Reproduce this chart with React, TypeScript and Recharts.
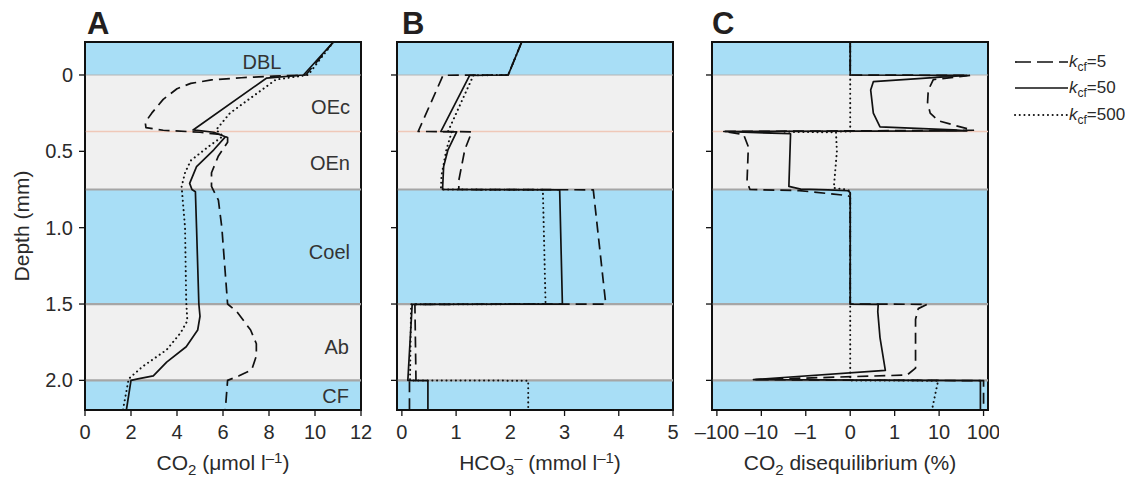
import React from 'react';
import { LineChart, Line, XAxis, YAxis, ReferenceArea, ReferenceLine } from 'recharts';

// ---------- shared depth layout ----------
const DEPTH_MIN = -0.216;
const DEPTH_MAX = 2.194;
const layerEdges = [-0.216, 0, 0.37, 0.75, 1.5, 2.0, 2.194];
const layerKinds = ['water', 'tissue', 'tissue', 'water', 'tissue', 'water'];
const layerNames = ['DBL', 'OEc', 'OEn', 'Coel', 'Ab', 'CF'];
const boundaryDepths = [0, 0.37, 0.75, 1.5, 2.0];
const depthTicks = [0, 0.5, 1.0, 1.5, 2.0];

// ---------- axis ticks ----------
const co2Ticks = [0, 2, 4, 6, 8, 10, 12];
const hco3Ticks = [0, 1, 2, 3, 4, 5];
const disTicks = [-100, -10, -1, 0, 1, 10, 100];
const disTickLabels = ['–100', '–10', '–1', '0', '1', '10', '100'];

// ---------- Panel A: CO2 (µmol l-1), [depth mm, value] ----------
const co2K5 = [
  [-0.216, 10.8], [0, 9.6], [0.008, 8.2], [0.018, 6.8], [0.032, 5.5], [0.055, 4.6], [0.09, 4.0],
  [0.16, 3.4], [0.25, 2.9], [0.31, 2.62], [0.345, 2.65], [0.362, 3.4], [0.375, 5.0], [0.39, 5.9],
  [0.41, 6.2], [0.44, 6.2], [0.53, 5.8], [0.64, 5.5], [0.73, 5.5], [0.82, 5.8], [1.0, 5.95],
  [1.3, 6.1], [1.5, 6.2], [1.55, 6.6], [1.67, 7.2], [1.76, 7.45], [1.84, 7.45], [1.93, 7.25],
  [1.97, 6.7], [2.0, 6.2], [2.194, 6.1],
];
const co2K50 = [
  [-0.216, 10.8], [0, 9.5], [0.02, 7.9], [0.36, 4.7], [0.375, 5.6], [0.405, 6.1], [0.49, 5.6],
  [0.6, 4.85], [0.71, 4.55], [0.75, 4.65], [0.765, 4.8], [1.0, 4.85], [1.5, 4.95], [1.58, 5.0],
  [1.67, 4.9], [1.78, 4.4], [1.88, 3.55], [1.97, 2.97], [1.99, 2.3], [2.0, 2.0], [2.194, 1.8],
];
const co2K500 = [
  [-0.216, 10.8], [0, 9.7], [0.03, 8.3], [0.14, 7.3], [0.25, 6.3], [0.36, 5.7], [0.4, 6.0],
  [0.47, 5.36], [0.56, 4.6], [0.64, 4.35], [0.73, 4.2], [1.0, 4.35], [1.48, 4.4], [1.61, 4.45],
  [1.69, 4.15], [1.8, 3.55], [1.91, 2.5], [1.99, 1.9], [2.194, 1.65],
];

// ---------- Panel B: HCO3- (mmol l-1) ----------
const hco3K5 = [
  [-0.216, 2.21], [0, 1.96], [0.002, 0.76], [0.37, 0.3], [0.372, 1.29], [0.49, 1.16],
  [0.69, 1.05], [0.75, 1.05], [0.752, 3.53], [1.5, 3.76], [1.502, 0.24], [2.0, 0.26],
  [2.002, 0.14], [2.194, 0.14],
];
const hco3K50 = [
  [-0.216, 2.21], [0, 1.96], [0.002, 1.25], [0.37, 0.72], [0.372, 1.01], [0.49, 0.85],
  [0.6, 0.77], [0.75, 0.75], [0.752, 2.91], [1.5, 2.96], [1.502, 0.19], [2.0, 0.11],
  [2.002, 0.48], [2.194, 0.48],
];
const hco3K500 = [
  [-0.216, 2.21], [0, 1.96], [0.002, 1.32], [0.37, 0.85], [0.372, 0.92], [0.49, 0.82],
  [0.66, 0.73], [0.75, 0.72], [0.752, 2.6], [1.5, 2.65], [1.502, 0.17], [2.0, 0.15],
  [2.002, 2.33], [2.194, 2.33],
];

// ---------- Panel C: CO2 disequilibrium (%) ----------
const disK5 = [
  [-0.216, 0], [0, 0], [0.003, 50], [0.03, 7.4], [0.1, 5.7], [0.18, 5.5], [0.25, 6.3],
  [0.3, 9.7], [0.34, 30], [0.362, 59], [0.37, -70], [0.39, -25], [0.47, -19.6], [0.7, -21],
  [0.75, -18], [0.757, -1.4], [0.79, -0.05], [0.8, 0], [1.5, 0], [1.502, 5.4], [1.53, 3.4],
  [1.6, 2.95], [1.92, 2.95], [1.965, 1.9], [1.995, -15], [2.002, 100], [2.194, 100],
];
const disK50 = [
  [-0.216, 0], [0, 0], [0.003, 42], [0.044, 0.52], [0.098, 0.46], [0.25, 0.52], [0.34, 0.67],
  [0.36, 21], [0.366, 42], [0.37, -70], [0.385, -2.2], [0.73, -2.4], [0.748, -1.3],
  [0.752, -0.5], [0.758, -0.05], [0.77, 0], [1.5, 0], [1.502, 0.63], [1.55, 0.62],
  [1.72, 0.67], [1.935, 0.79], [1.995, -15], [2.002, 85], [2.194, 85],
];
const disK500 = [
  [-0.216, 0], [0.37, 0], [0.372, -3], [0.376, -0.32], [0.5, -0.3], [0.74, -0.37],
  [0.75, -0.1], [0.76, 0], [2.0, 0], [2.002, 9.5], [2.194, 6.9],
];

// symmetric log transform used by panel C's axis
const symlog = (v: number) => (Math.abs(v) >= 1 ? Math.sign(v) * (Math.log10(Math.abs(v)) + 1) : v);

const toRows = (pairs: number[][], f: (v: number) => number = (v) => v) =>
  pairs.map(([d, v]) => ({ d, v: f(v) }));

const BLUE = '#a8def6';
const GRAY = '#f0f0f0';
const INK = '#111';
const FONT = '"Liberation Sans", Arial, Helvetica, sans-serif';
const TICK_FONT = 20;

const seriesStyles = [
  { strokeDasharray: '11 6', strokeWidth: 1.7, strokeLinecap: 'butt' },
  { strokeDasharray: undefined, strokeWidth: 1.7, strokeLinecap: 'butt' },
  { strokeDasharray: '0.1 4.6', strokeWidth: 2, strokeLinecap: 'round' },
];

const boundaryStyle = (d: number) => {
  if (d === 0) return { stroke: '#b4b4b4', strokeWidth: 1.2 };
  if (d === 0.37) return { stroke: '#efc8b8', strokeWidth: 1.6 };
  return { stroke: '#a6a6a6', strokeWidth: 2.2 };
};

type PanelProps = {
  left: number;
  width: number;
  yAxisWidth: number;
  marginRight: number;
  xDomain: number[];
  xTicks: number[];
  xFmt: (v: number) => string;
  series: { d: number; v: number }[][];
  yLabels: boolean;
};

const Panel = ({ left, width, yAxisWidth, marginRight, xDomain, xTicks, xFmt, series, yLabels }: PanelProps) => (
  <div style={{ position: 'absolute', left, top: 0 }}>
    <LineChart
      width={width}
      height={478}
      layout="vertical"
      margin={{ top: 42, right: marginRight, bottom: 20, left: 0 }}
    >
      <XAxis
        type="number"
        domain={xDomain}
        ticks={xTicks}
        tickFormatter={xFmt}
        allowDataOverflow
        interval={0}
        height={48}
        tickSize={6}
        tickMargin={9}
        tick={{ fontSize: TICK_FONT, fill: '#2a2a2a', fontFamily: FONT }}
        tickLine={{ stroke: INK, strokeWidth: 1.3 }}
        axisLine={{ stroke: INK, strokeWidth: 1.6 }}
      />
      <YAxis
        type="number"
        dataKey="d"
        domain={[DEPTH_MIN, DEPTH_MAX]}
        ticks={depthTicks}
        allowDataOverflow
        interval={0}
        width={yAxisWidth}
        tickSize={6}
        tickMargin={6}
        tickFormatter={(v: number) => (yLabels ? (v === 0 ? '0' : v.toFixed(1)) : '')}
        tick={{ fontSize: TICK_FONT, fill: '#2a2a2a', fontFamily: FONT }}
        tickLine={{ stroke: INK, strokeWidth: 1.3 }}
        axisLine={{ stroke: INK, strokeWidth: 1.6 }}
      />
      {layerKinds.map((k, i) => (
        <ReferenceArea
          key={'band' + i}
          y1={layerEdges[i]}
          y2={layerEdges[i + 1]}
          fill={k === 'water' ? BLUE : GRAY}
          fillOpacity={1}
          stroke="none"
          ifOverflow="hidden"
        />
      ))}
      {boundaryDepths.map((d) => (
        <ReferenceLine key={'b' + d} y={d} {...boundaryStyle(d)} ifOverflow="hidden" />
      ))}
      {series.map((data, i) => (
        <Line
          key={'s' + i}
          data={data}
          dataKey="v"
          type="linear"
          stroke={INK}
          dot={false}
          activeDot={false}
          isAnimationActive={false}
          strokeDasharray={seriesStyles[i].strokeDasharray}
          strokeWidth={seriesStyles[i].strokeWidth}
          strokeLinecap={seriesStyles[i].strokeLinecap as any}
          strokeLinejoin="round"
        />
      ))}
      <ReferenceArea
        x1={xDomain[0]}
        x2={xDomain[1]}
        y1={DEPTH_MIN}
        y2={DEPTH_MAX}
        fill="none"
        stroke={INK}
        strokeWidth={2}
        ifOverflow="visible"
      />
    </LineChart>
  </div>
);

const labelPos = [
  { x: 262, y: 62, align: 'center' },
  { x: 350, y: 107, align: 'right' },
  { x: 350, y: 163, align: 'right' },
  { x: 350, y: 252, align: 'right' },
  { x: 349, y: 347, align: 'right' },
  { x: 349, y: 396, align: 'right' },
];

const legendKeys = ['5', '50', '500'];

const abs = (o: React.CSSProperties): React.CSSProperties => ({ position: 'absolute', ...o });
const subS: React.CSSProperties = { fontSize: 15, verticalAlign: 'baseline', position: 'relative', top: 5 };
const supS: React.CSSProperties = { fontSize: 15, verticalAlign: 'baseline', position: 'relative', top: -7 };

export default function App() {
  return (
    <div style={{ position: 'absolute', left: 0, top: 0, width: 1125, height: 478, background: '#fff', fontFamily: FONT, color: '#2a2a2a', overflow: 'hidden' }}>
      <Panel
        left={0}
        width={372}
        yAxisWidth={85}
        marginRight={11}
        xDomain={[0, 12]}
        xTicks={co2Ticks}
        xFmt={(v) => String(v)}
        series={[toRows(co2K5), toRows(co2K50), toRows(co2K500)]}
        yLabels
      />
      <Panel
        left={372}
        width={312}
        yAxisWidth={25}
        marginRight={11}
        xDomain={[-0.09, 5]}
        xTicks={hco3Ticks}
        xFmt={(v) => String(v)}
        series={[toRows(hco3K5), toRows(hco3K50), toRows(hco3K500)]}
        yLabels={false}
      />
      <Panel
        left={684}
        width={315}
        yAxisWidth={28}
        marginRight={11}
        xDomain={[-3.11, 3.1]}
        xTicks={disTicks.map(symlog)}
        xFmt={(v) => disTickLabels[disTicks.map(symlog).findIndex((t) => Math.abs(t - v) < 1e-6)] ?? ''}
        series={[toRows(disK5, symlog), toRows(disK50, symlog), toRows(disK500, symlog)]}
        yLabels={false}
      />

      {/* layer names */}
      {layerNames.map((n, i) => (
        <div
          key={n}
          style={abs({
            left: labelPos[i].align === 'center' ? labelPos[i].x - 50 : labelPos[i].x - 100,
            width: 100,
            top: labelPos[i].y - 12,
            lineHeight: '24px',
            fontSize: 20,
            textAlign: labelPos[i].align as any,
            color: '#333',
          })}
        >
          {n}
        </div>
      ))}

      {/* panel letters */}
      {[['A', 87], ['B', 402], ['C', 712]].map(([t, x]) => (
        <div key={t as string} style={abs({ left: x as number, top: 6, fontSize: 31, fontWeight: 'bold', lineHeight: '36px', color: '#231f20' })}>
          {t}
        </div>
      ))}

      {/* axis titles */}
      <div style={abs({ left: 22 - 100, top: 226 - 12, width: 200, textAlign: 'center', fontSize: 21, lineHeight: '24px', transform: 'rotate(-90deg)' })}>
        Depth (mm)
      </div>
      <div style={abs({ left: 103, width: 240, top: 451, textAlign: 'center', fontSize: 21, lineHeight: '24px' })}>
        CO<span style={subS}>2</span> (μmol l<span style={supS}>–1</span>)
      </div>
      <div style={abs({ left: 420, width: 240, top: 451, textAlign: 'center', fontSize: 21, lineHeight: '24px' })}>
        HCO<span style={subS}>3</span><span style={supS}>–</span> (mmol l<span style={supS}>–1</span>)
      </div>
      <div style={abs({ left: 720, width: 260, top: 451, textAlign: 'center', fontSize: 21, lineHeight: '24px' })}>
        CO<span style={subS}>2</span> disequilibrium (%)
      </div>

      {/* legend */}
      {legendKeys.map((k, i) => {
        const y = [62, 88, 115][i];
        const st = seriesStyles[i];
        return (
          <React.Fragment key={k}>
            <svg style={abs({ left: 1014, top: y - 3 })} width={56} height={6}>
              <line x1={1} y1={3} x2={54} y2={3} stroke={INK} strokeWidth={st.strokeWidth}
                strokeDasharray={i === 0 ? '16 6' : st.strokeDasharray} strokeLinecap={st.strokeLinecap as any} />
            </svg>
            <div style={abs({ left: 1069, top: y - 10, fontSize: 17, lineHeight: '19px', whiteSpace: 'nowrap' })}>
              <i>k</i><span style={{ fontSize: 12, position: 'relative', top: 4 }}>cf</span>={k}
            </div>
          </React.Fragment>
        );
      })}
    </div>
  );
}
